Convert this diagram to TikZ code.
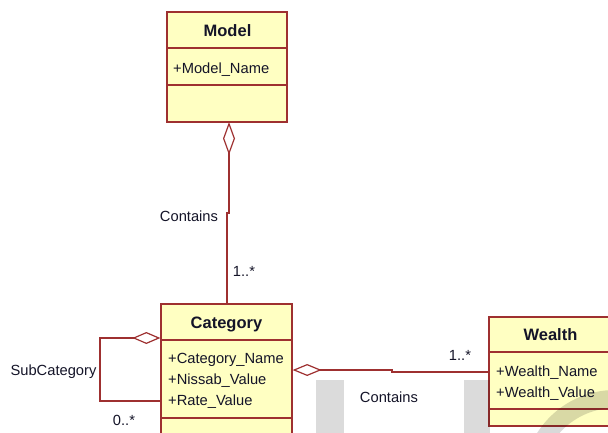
\documentclass[tikz,border=0pt]{standalone}
\usepackage{fontspec}
\setmainfont{Liberation Sans}
\usetikzlibrary{arrows.meta,calc}
\definecolor{umlline}{RGB}{158,48,48}
\definecolor{umlfill}{RGB}{255,255,194}
\definecolor{umltext}{RGB}{20,20,40}
\tikzset{
  umlbox/.style={draw=umlline, fill=umlfill, line width=1.3pt, inner sep=0pt, rectangle},
  divider/.style={draw=umlline, line width=1.3pt},
  assoc/.style={draw=umlline, line width=1.2pt},
  aggtip/.style={-{Diamond[open, length=#1, width=12pt, line width=1.2pt]}},
  title/.style={font=\fontsize{16.5}{19}\selectfont\bfseries, text=umltext, anchor=base, inner sep=0pt},
  attr/.style={font=\fontsize{14.7}{17}\selectfont, text=umltext, anchor=base west, inner sep=0pt},
  lbl/.style={font=\fontsize{14.7}{17}\selectfont, text=umltext, anchor=base, inner sep=0pt},
  watermark/.style={fill=black, fill opacity=0.14, draw=none}
}
\begin{document}
\begin{tikzpicture}[x=1pt, y=-1pt]
\useasboundingbox (0,0) rectangle (608,432);
\clip (0,0) rectangle (608,432);

% Model class
\node[umlbox, minimum width=120pt, minimum height=110pt] (model) at (227,67) {};
\draw[divider] (167,48) -- (287,48);
\draw[divider] (167,85) -- (287,85);
\node[title] (modelT) at (227.5,36) {Model};
\node[attr] (modelA) at (173,73) {+Model\_Name};

% Category class
\node[umlbox, minimum width=131pt, minimum height=150pt] (category) at (226.5,379) {};
\draw[divider] (161,340) -- (292,340);
\draw[divider] (161,418) -- (292,418);
\node[title] (categoryT) at (226.5,328) {Category};
\node[attr] (categoryA1) at (168,363) {+Category\_Name};
\node[attr] (categoryA2) at (168,384) {+Nissab\_Value};
\node[attr] (categoryA3) at (168,405) {+Rate\_Value};

% Wealth class (runs past the right edge)
\node[umlbox, minimum width=136pt, minimum height=109pt] (wealth) at (557,371.5) {};
\draw[divider] (489,352) -- (625,352);
\draw[divider] (489,409) -- (625,409);
\node[title] (wealthT) at (550.5,340) {Wealth};
\node[attr] (wealthA1) at (496,376) {+Wealth\_Name};
\node[attr] (wealthA2) at (496,397) {+Wealth\_Value};

% Model contains categories
\coordinate (mTop) at (228,122);
\draw[assoc, aggtip=33pt] (category.north -| 227,0) -- (227,213) -- (229,213) -- (mTop -| 229,0) ;
\node[lbl] (contains1) at (189,221) {Contains};
\node[lbl] (mult1) at (244,276) {1..*};

% Category self-aggregation
\coordinate (loopA) at (100,401);
\coordinate (loopB) at (100,338);
\draw[assoc, aggtip=28pt] (category.west |- loopA) -- (loopA) -- (loopB) -- (category.west |- loopB);
\node[lbl] (subcat) at (53.5,375) {SubCategory};
\node[lbl] (mult0) at (124,425) {0..*};

% Category contains wealth items
\coordinate (jog) at (392,372);
\draw[assoc, aggtip=29pt] (wealth.west |- jog) -- (jog) -- (392,370) -- (category.east |- 0,370);
\node[lbl] (mult2) at (460,360) {1..*};
\node[lbl] (contains2) at (389,402) {Contains};

% Faint background marks
\fill[watermark] (316,380) rectangle (344,440);
\fill[watermark] (464,380) rectangle (490,440);
\draw[black, draw opacity=0.15, line width=18pt] (615,482) ++(180:83) arc[start angle=180, end angle=270, radius=83];
\end{tikzpicture}
\end{document}
